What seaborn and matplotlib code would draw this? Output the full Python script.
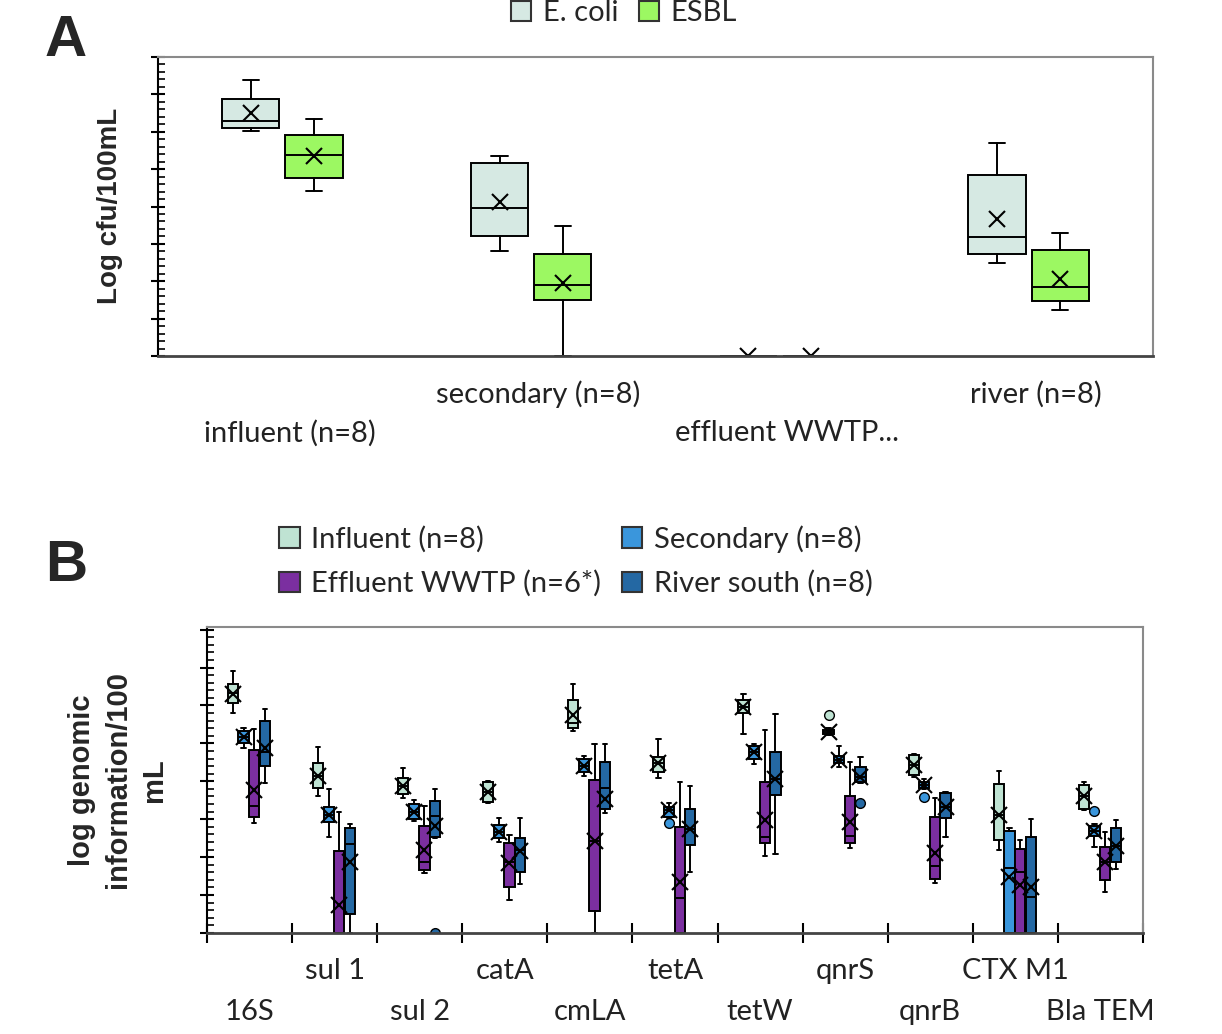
import numpy as np
import matplotlib
matplotlib.use("Agg")
import matplotlib.pyplot as plt
from matplotlib.patches import Patch
from matplotlib.ticker import MultipleLocator, AutoMinorLocator
import seaborn as sns

sns.set_style("white")
plt.rcParams['font.family'] = ['Lato', 'DejaVu Sans']

# ---------- panel A data: (whisker low, q1, median, q3, whisker high, mean) ----------
sites_a = ['influent (n=8)', 'secondary (n=8)', 'effluent WWTP...', 'river (n=8)']
ecoli_stats = [[6.03, 6.09, 6.28, 6.88, 7.39, 6.49],
               [2.81, 3.22, 3.97, 5.17, 5.36, 4.12],
               [0.00, 0.00, 0.00, 0.00, 0.00, 0.00],
               [2.49, 2.72, 3.19, 4.83, 5.71, 3.66]]
esbl_stats = [[4.42, 4.75, 5.38, 5.92, 6.35, 5.34],
              [0.00, 1.50, 1.91, 2.73, 3.48, 1.95],
              [0.00, 0.00, 0.00, 0.00, 0.00, 0.00],
              [1.24, 1.47, 1.85, 2.83, 3.30, 2.07]]

# ---------- panel B data ----------
genes = ['16S', 'sul 1', 'sul 2', 'catA', 'cmLA', 'tetA', 'tetW', 'qnrS', 'qnrB', 'CTX M1', 'Bla TEM']
influent_stats = [[5.81, 6.06, 6.32, 6.56, 6.92, 6.30],
                  [3.62, 3.83, 4.14, 4.49, 4.90, 4.14],
                  [3.57, 3.67, 3.88, 4.08, 4.35, 3.88],
                  [3.44, 3.46, 3.73, 3.97, 4.01, 3.73],
                  [5.33, 5.40, 5.53, 6.15, 6.57, 5.75],
                  [4.08, 4.24, 4.48, 4.65, 5.11, 4.48],
                  [5.24, 5.80, 5.97, 6.15, 6.31, 5.97],
                  [5.22, 5.26, 5.31, 5.36, 5.40, 5.31],
                  [4.12, 4.17, 4.43, 4.70, 4.72, 4.43],
                  [2.19, 2.44, 3.10, 3.93, 4.28, 3.11],
                  [3.24, 3.26, 3.60, 3.91, 3.99, 3.60]]
secondary_stats = [[4.87, 5.02, 5.18, 5.33, 5.40, 5.18],
                   [2.54, 2.92, 3.12, 3.33, 3.79, 3.11],
                   [2.96, 3.00, 3.20, 3.40, 3.51, 3.20],
                   [2.40, 2.50, 2.67, 2.85, 3.02, 2.67],
                   [4.14, 4.24, 4.41, 4.58, 4.67, 4.41],
                   [3.03, 3.07, 3.25, 3.33, 3.43, 3.25],
                   [4.46, 4.58, 4.78, 4.93, 4.99, 4.78],
                   [4.37, 4.48, 4.56, 4.67, 4.93, 4.56],
                   [3.80, 3.82, 3.91, 3.99, 4.05, 3.91],
                   [0.00, 0.00, 1.71, 2.70, 2.76, 1.49],
                   [2.26, 2.56, 2.69, 2.82, 2.87, 2.69]]
effluent_stats = [[2.91, 3.07, 3.36, 4.83, 5.38, 3.77],
                  [0.00, 0.00, 0.00, 2.16, 3.20, 0.74],
                  [1.59, 1.66, 1.88, 2.81, 3.35, 2.19],
                  [0.87, 1.22, 1.88, 2.37, 2.59, 1.84],
                  [0.00, 0.59, 2.43, 4.04, 4.99, 2.43],
                  [0.00, 0.00, 0.91, 2.80, 3.97, 1.35],
                  [2.03, 2.37, 2.54, 3.97, 5.36, 2.98],
                  [2.25, 2.37, 2.57, 3.61, 4.50, 2.94],
                  [1.31, 1.42, 1.77, 3.07, 3.55, 2.10],
                  [0.00, 0.00, 1.62, 2.21, 2.45, 1.27],
                  [1.09, 1.40, 1.88, 2.26, 2.67, 1.88]]
river_stats = [[3.95, 4.41, 4.78, 5.59, 5.90, 4.89],
               [0.00, 0.49, 2.34, 2.77, 2.88, 1.87],
               [2.50, 2.54, 3.09, 3.47, 3.80, 2.82],
               [1.28, 1.62, 2.20, 2.50, 3.04, 2.17],
               [3.17, 3.27, 3.82, 4.51, 4.99, 3.53],
               [1.62, 2.32, 2.75, 3.27, 3.88, 2.74],
               [2.08, 3.64, 4.05, 4.78, 5.78, 4.06],
               [3.96, 3.99, 4.12, 4.37, 4.64, 4.12],
               [2.54, 3.03, 3.33, 3.69, 3.71, 3.33],
               [0.00, 0.00, 0.94, 2.52, 3.01, 1.22],
               [1.68, 1.88, 2.30, 2.76, 2.98, 2.30]]
# outliers: {gene index: [values]}
influent_fliers = {7: [5.75]}
secondary_fliers = {5: [2.89], 8: [3.58], 10: [3.23]}
effluent_fliers = {}
river_fliers = {2: [0.0], 7: [3.42]}


def to_bxp(rows, fliers=None):
    fliers = fliers or {}
    out = []
    for i, (lo, q1, med, q3, hi, mean) in enumerate(rows):
        out.append(dict(whislo=lo, q1=q1, med=med, q3=q3, whishi=hi,
                        mean=mean, fliers=fliers.get(i, [])))
    return out


def draw(ax, stats, pos, width, color, capw, msize):
    ax.bxp(stats, positions=pos, widths=width, patch_artist=True, showmeans=True,
           capwidths=capw,
           boxprops=dict(facecolor=color, edgecolor='black', linewidth=1.4),
           whiskerprops=dict(color='black', linewidth=1.4),
           capprops=dict(color='black', linewidth=1.4),
           medianprops=dict(color='black', linewidth=1.4),
           meanprops=dict(marker='x', markeredgecolor='black', markeredgewidth=1.5,
                          markersize=msize),
           flierprops=dict(marker='o', markerfacecolor=color, markeredgecolor='black',
                           markeredgewidth=1.0, markersize=7))


def style_axes(ax):
    ax.set_ylim(0, 8)
    ax.yaxis.set_major_locator(MultipleLocator(1))
    ax.yaxis.set_minor_locator(AutoMinorLocator(5))
    ax.tick_params(axis='y', which='major', direction='inout', length=10, width=1.5,
                   left=True, labelleft=False, color='black')
    ax.tick_params(axis='y', which='minor', direction='in', length=5, width=1.2,
                   left=True, color='black')
    ax.spines['left'].set_color('black')
    ax.spines['left'].set_linewidth(1.5)
    ax.spines['bottom'].set_color('#444444')
    ax.spines['bottom'].set_linewidth(2)
    for s in ['top', 'right']:
        ax.spines[s].set_color('#8a8a8a')
        ax.spines[s].set_linewidth(1.5)


fig = plt.figure(figsize=(12.22, 10.34), dpi=100)
FS = 21

# ---------------- Panel A ----------------
col_ecoli = '#d6e9e3'
col_esbl = '#9cf862'
axA = fig.add_axes([158 / 1222, 1 - 356 / 1034, 995 / 1222, 299 / 1034])
xa = np.arange(len(sites_a))
draw(axA, to_bxp(ecoli_stats), xa - 0.127, 0.23, col_ecoli, 0.065, 12)
draw(axA, to_bxp(esbl_stats), xa + 0.127, 0.23, col_esbl, 0.065, 12)
style_axes(axA)
axA.set_xlim(-0.5, len(sites_a) - 0.5)
axA.set_xticks([])
for i, name in enumerate(sites_a):
    yy = -0.2575 if i % 2 == 0 else -0.127
    axA.text(i + 0.03, yy, name, transform=axA.get_xaxis_transform(),
             ha='center', va='center', fontsize=FS, color='#222222')

fig.legend(handles=[Patch(facecolor=col_ecoli, edgecolor='#333333', linewidth=1.5, label='E. coli'),
                    Patch(facecolor=col_esbl, edgecolor='#333333', linewidth=1.5, label='ESBL')],
           loc='center', bbox_to_anchor=(624 / 1222, 1 - 13 / 1034), ncol=2, frameon=False,
           fontsize=FS, handlelength=0.7, handleheight=0.7, handletextpad=0.4,
           columnspacing=0.7, borderpad=0)

fig.text(110 / 1222, 1 - 206 / 1034, 'Log cfu/100mL', rotation=90, ha='center', va='center',
         fontsize=20, fontweight='bold', family='Liberation Sans')
fig.text(66 / 1222, 1 - 41 / 1034, 'A', ha='center', va='center', fontsize=42,
         fontweight='bold', family='Liberation Sans')

# ---------------- Panel B ----------------
col_inf = '#bfe3d3'
col_sec = '#3a96dc'
col_eff = '#7b2fa0'
col_riv = '#2468a3'
axB = fig.add_axes([207 / 1222, 1 - 933 / 1034, 936 / 1222, 306 / 1034])
xb = np.arange(len(genes))
wb = 0.12
draw(axB, to_bxp(influent_stats, influent_fliers), xb - 0.195, wb, col_inf, 0.05, 11)
draw(axB, to_bxp(secondary_stats, secondary_fliers), xb - 0.07, wb, col_sec, 0.05, 11)
draw(axB, to_bxp(effluent_stats, effluent_fliers), xb + 0.055, wb, col_eff, 0.05, 11)
draw(axB, to_bxp(river_stats, river_fliers), xb + 0.18, wb, col_riv, 0.05, 11)
style_axes(axB)
axB.set_ylim(0, 8.07)
axB.set_xlim(-0.5, len(genes) - 0.5)
axB.set_xticks(np.arange(len(genes) + 1) - 0.5)
axB.tick_params(axis='x', which='major', direction='inout', length=14, width=1.5,
                bottom=True, labelbottom=False, color='black')
for i, name in enumerate(genes):
    yy = -0.258 if i % 2 == 0 else -0.124
    axB.text(i, yy, name, transform=axB.get_xaxis_transform(),
             ha='center', va='center', fontsize=FS, color='#222222')

fig.legend(handles=[Patch(facecolor=col_inf, edgecolor='#333333', linewidth=1.5, label='Influent (n=8)'),
                    Patch(facecolor=col_eff, edgecolor='#333333', linewidth=1.5, label='Effluent WWTP (n=6*)'),
                    Patch(facecolor=col_sec, edgecolor='#333333', linewidth=1.5, label='Secondary (n=8)'),
                    Patch(facecolor=col_riv, edgecolor='#333333', linewidth=1.5, label='River south (n=8)')],
           loc='center', bbox_to_anchor=(576 / 1222, 1 - 561 / 1034), ncol=2, frameon=False,
           fontsize=FS, handlelength=0.7, handleheight=0.7, handletextpad=0.4,
           columnspacing=0.7, labelspacing=0.6, borderpad=0)

fig.text(118 / 1222, 1 - 780 / 1034, 'log genomic\ninformation/100\nmL', rotation=90,
         ha='center', va='center', multialignment='center', linespacing=1.35,
         fontsize=21, fontweight='bold', family='Liberation Sans')
fig.text(66 / 1222, 1 - 566 / 1034, 'B', ha='center', va='center', fontsize=42,
         fontweight='bold', family='Liberation Sans')

plt.savefig('out.png', dpi=100)
